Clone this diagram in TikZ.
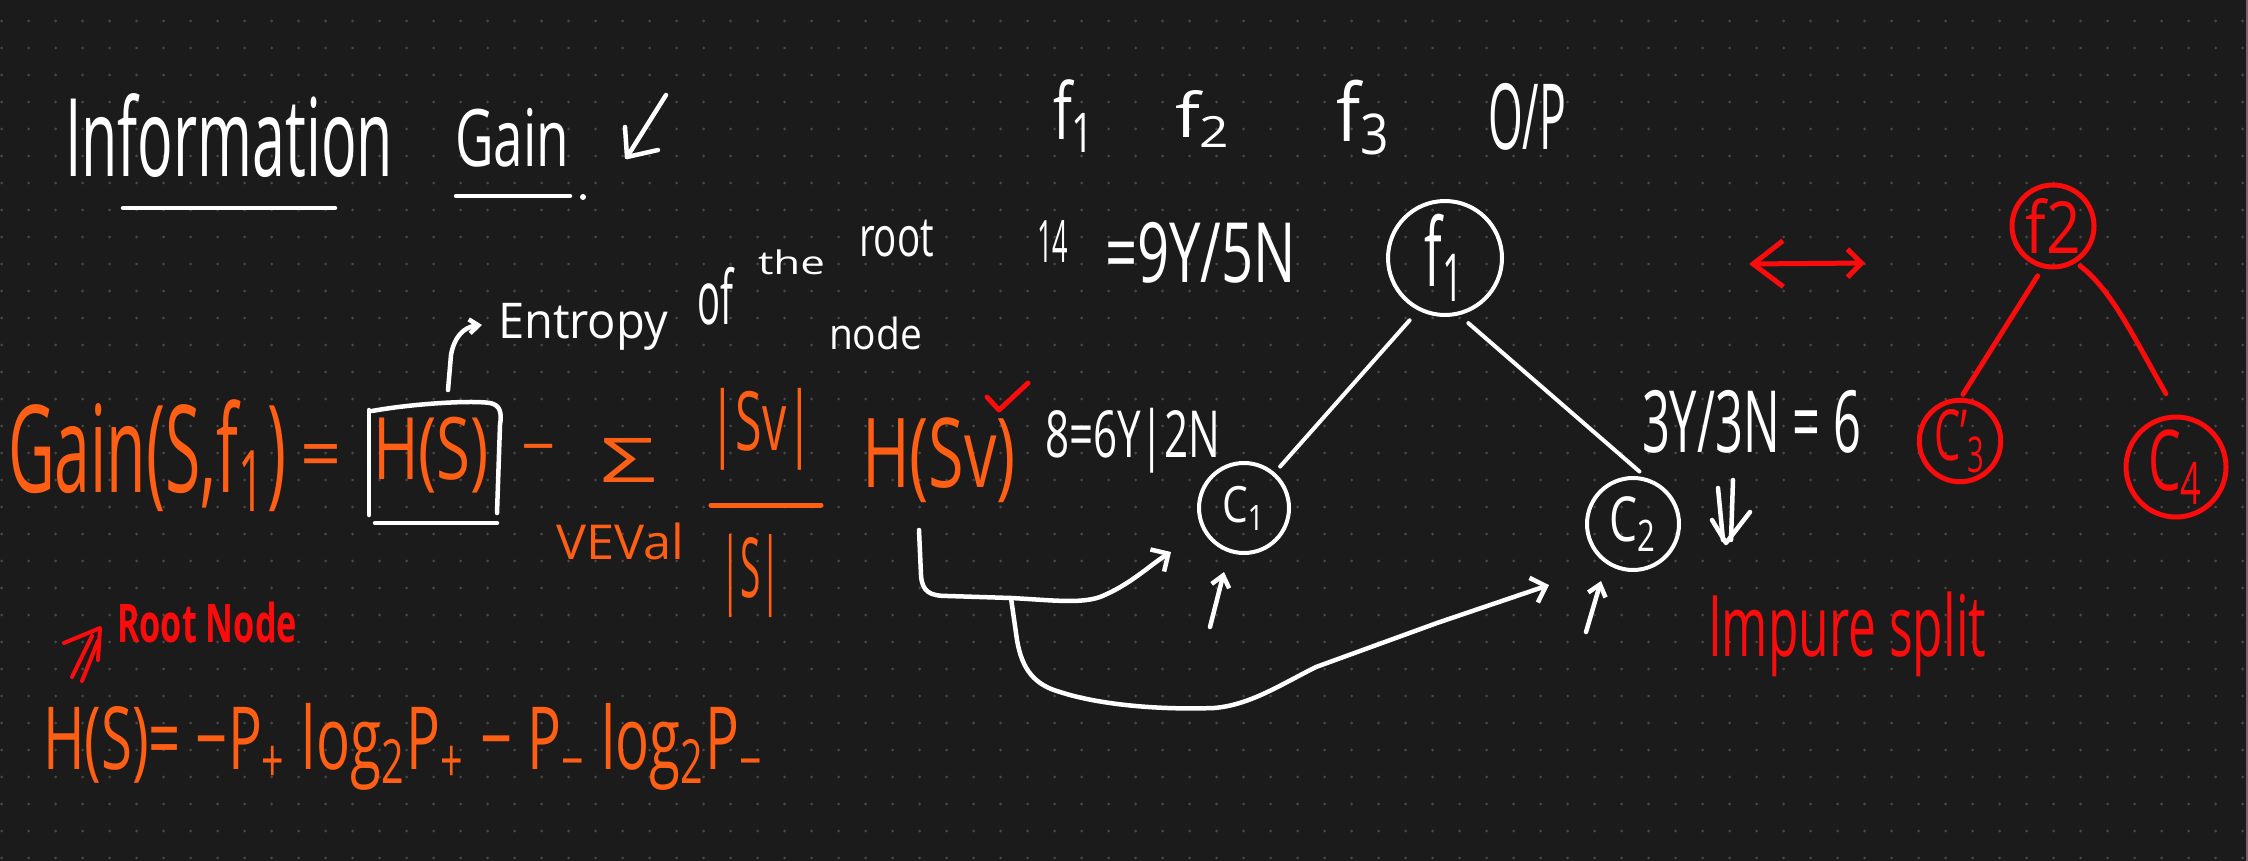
\documentclass[tikz,border=0pt]{standalone}
\usepackage{fontspec}
\setmainfont{Open Sans}
\usetikzlibrary{arrows.meta}
\definecolor{bgc}{RGB}{27,27,27}
\definecolor{dotc}{RGB}{72,72,72}
\definecolor{orng}{RGB}{255,95,20}
\definecolor{redc}{RGB}{250,12,12}
\definecolor{edgec}{RGB}{140,90,110}
\newcommand{\fitbox}[3]{\resizebox*{#1pt}{#2pt}{#3}}
\begin{document}
\begin{tikzpicture}[x=1pt,y=-1pt,
  txt/.style={inner sep=0pt, outer sep=0pt, anchor=north west},
  wtxt/.style={txt, text=white},
  otxt/.style={txt, text=orng},
  rtxt/.style={txt, text=redc},
  wline/.style={draw=white, line width=4.5pt, line cap=round, line join=round},
  oline/.style={draw=orng, line width=5pt, line cap=round, line join=round},
  rline/.style={draw=redc, line width=5pt, line cap=round, line join=round},
  wcirc/.style={circle, draw=white, line width=4pt, inner sep=0pt, text=white},
  rcirc/.style={circle, draw=redc, line width=5pt, inner sep=0pt, text=redc},
  barb/.style={-{Straight Barb[length=13pt,width=26pt]}},
  sbarb/.style={-{Straight Barb[length=9pt,width=14pt]}}
]
\useasboundingbox (0,0) rectangle (2248,861);
\fill[bgc] (0,0) rectangle (2248,861);
\foreach \i in {0,...,83}{
  \foreach \j in {0,...,31}{
    \fill[dotc] (1.7+27*\i,21+27*\j) circle (1.5);
  }
}
\draw[edgec, line width=1.5pt] (2246.8,0) -- (2246.8,861);

% title
\node[wtxt] (title1) at (65,93) {\fitbox{328}{84}{Information}};
\node[wtxt] (title2) at (455,108) {\fitbox{114}{59}{Gain}};
\draw[wline] (123,208) -- (335,208);
\draw[wline] (456,196) -- (570,196);
\fill[white] (583,197) circle (3);
\coordinate (ta0) at (666,95);
\coordinate (ta1) at (627,157);
\draw[wline] (ta0) -- (ta1);
\draw[wline] (625,127) -- (ta1) -- (658,150);

% header
\node[wtxt] (hf1) at (1053,80) {\fitbox{44}{72}{f\textsubscript{1}}};
\node[wtxt] (hf2) at (1175,90) {\fitbox{58}{57}{f\textsubscript{2}}};
\node[wtxt] (hf3) at (1336,80) {\fitbox{56}{75}{f\textsubscript{3}}};
\node[wtxt] (hop) at (1488,83) {\fitbox{78}{67}{O/P}};
\node[wtxt] (n14a) at (1037,220) {\fitbox{31}{42}{14}};
\node[wtxt] (n14b) at (1105,222) {\fitbox{191}{61}{=9Y/5N}};

% entropy annotation
\node[wtxt] (ent1) at (498,303) {\fitbox{170}{47}{Entropy}};
\node[wtxt] (ent2) at (697,267) {\fitbox{36}{58}{of}};
\node[wtxt] (ent3) at (758,250) {\fitbox{67}{25}{the}};
\node[wtxt] (ent4) at (859,220) {\fitbox{75}{37}{root}};
\node[wtxt] (ent5) at (829,317) {\fitbox{93}{33}{node}};

% main equation
\node[otxt] (gain) at (8,400) {\fitbox{278}{112}{Gain(S,f\textsubscript{1})}};
\node[inner sep=0pt, text=orng, font=\fontsize{72}{72}\selectfont] (eq1) at (321,462) {=};
\node[otxt] (hs) at (373,417) {\fitbox{116}{76}{H(S)}};
\draw[wline] (369,410) -- (369,515);
\draw[wline] (372,411) .. controls (410,404) and (470,400) .. (490,403)
   .. controls (500,405) and (502,412) .. (500,425) -- (497,513);
\draw[wline] (375,523) -- (497,523);
\node[inner sep=0pt, text=orng, font=\fontsize{60}{60}\selectfont] (minus) at (539,456) {\char"2212};
\node[otxt] (sig) at (600,438) {\fitbox{56}{44}{Σ}};
\node[otxt] (sv) at (709,388) {\fitbox{104}{82}{|Sv|}};
\draw[oline] (711,505) -- (821,505);
\node[otxt] (s) at (720,535) {\fitbox{61}{83}{|S|}};
\node[otxt] (veval) at (556,523) {\fitbox{128}{37}{VEVal}};
\node[otxt] (hsv) at (862,418) {\fitbox{154}{85}{H(Sv)}};
\draw[rline] (987,397) -- (999,410) -- (1028,383);
\node[wtxt] (lab1) at (1045,408) {\fitbox{175}{65}{8=6Y|2N}};

% entropy hook arrow
\coordinate (ent0) at (448,390);
\coordinate (entt) at (482,325);
\draw[wline, sbarb] (ent0) -- (451,355) .. controls (454,338) and (463,327) .. (entt);

% formula
\node[otxt] (hform) at (43,703) {\fitbox{722}{87}{H(S)= −P\textsubscript{+} log\textsubscript{2}P\textsubscript{+} − P\textsubscript{−} log\textsubscript{2}P\textsubscript{−}}};
\node[rtxt] (root) at (117,602) {\fitbox{180}{41}{\bfseries Root Node}};
\draw[rline, line width=4pt] (72,677) -- (92,636);
\draw[rline, line width=4pt] (82,681) -- (98,641);
\draw[rline, line width=4pt] (64,643) -- (100,628) -- (98,660);

% white tree
\node[wcirc, minimum size=114pt] (f1) at (1445,258) {\fitbox{41}{87}{f\textsubscript{1}}};
\node[wcirc, minimum size=90pt] (c1) at (1244,508) {\fitbox{44}{44}{C\textsubscript{1}}};
\node[wcirc, minimum size=92pt] (c2) at (1633,524) {\fitbox{48}{55}{C\textsubscript{2}}};
\draw[wline, line width=4pt, shorten <=13pt, shorten >=8pt] (f1.-117) -- (c1.49);
\draw[wline, line width=4pt, shorten <=12pt, shorten >=10pt] (f1.-76) -- (c2.73);
\node[wtxt] (lab2) at (1642,390) {\fitbox{219}{63}{3Y/3N = 6}};
\draw[wline] (1718,488) -- (1723,540);
\draw[wline] (1733,480) -- (1731,540);
\draw[wline] (1712,520) -- (1726,543) -- (1750,512);
\node[rtxt] (impure) at (1708,592) {\fitbox{278}{85}{Impure split}};

% connector from H(Sv) to C1 and C2
\coordinate (sv0) at (919,530);
\coordinate (br) at (1011,598);
\coordinate (a1) at (1171,552);
\coordinate (a2) at (1549,585);
\draw[wline, barb] (sv0) -- (921,575) .. controls (922,592) and (930,596) .. (948,596)
   -- (br) .. controls (1050,600) and (1080,604) .. (1100,597)
   .. controls (1130,585) and (1150,565) .. (a1);
\draw[wline, barb] (br) -- (1017,640) .. controls (1022,670) and (1035,685) .. (1060,692)
   .. controls (1100,705) and (1160,710) .. (1214,708)
   .. controls (1250,705) and (1280,685) .. (1316,667) -- (1437,623) -- (a2);
\coordinate (u1s) at (1210,627);
\coordinate (u1e) at (1224,572);
\coordinate (u2s) at (1586,632);
\coordinate (u2e) at (1601,581);
\draw[wline, -{Straight Barb[length=11pt,width=18pt]}] (u1s) -- (u1e);
\draw[wline, -{Straight Barb[length=11pt,width=18pt]}] (u2s) -- (u2e);

% red tree
\coordinate (da1) at (1749,264);
\coordinate (da2) at (1865,263);
\draw[rline, {Straight Barb[length=30pt,width=46pt]}-{Straight Barb[length=14pt,width=28pt]}] (da1) -- (da2);
\node[rcirc, minimum size=82pt] (f2) at (2053,226) {\fitbox{55}{55}{f2}};
\node[rcirc, minimum size=78pt] (c3) at (1960,441) {\fitbox{52}{63}{C'\textsubscript{3}}};
\node[rcirc, minimum size=100pt] (c4) at (2176,467) {\fitbox{56}{74}{C\textsubscript{4}}};
\draw[rline, shorten <=9pt, shorten >=4pt] (f2.-104) -- (c3.89);
\draw[rline, shorten <=5pt, shorten >=24pt] (f2.-58) .. controls (2112,290) and (2135,340) .. (c4.88);
\end{tikzpicture}
\end{document}
